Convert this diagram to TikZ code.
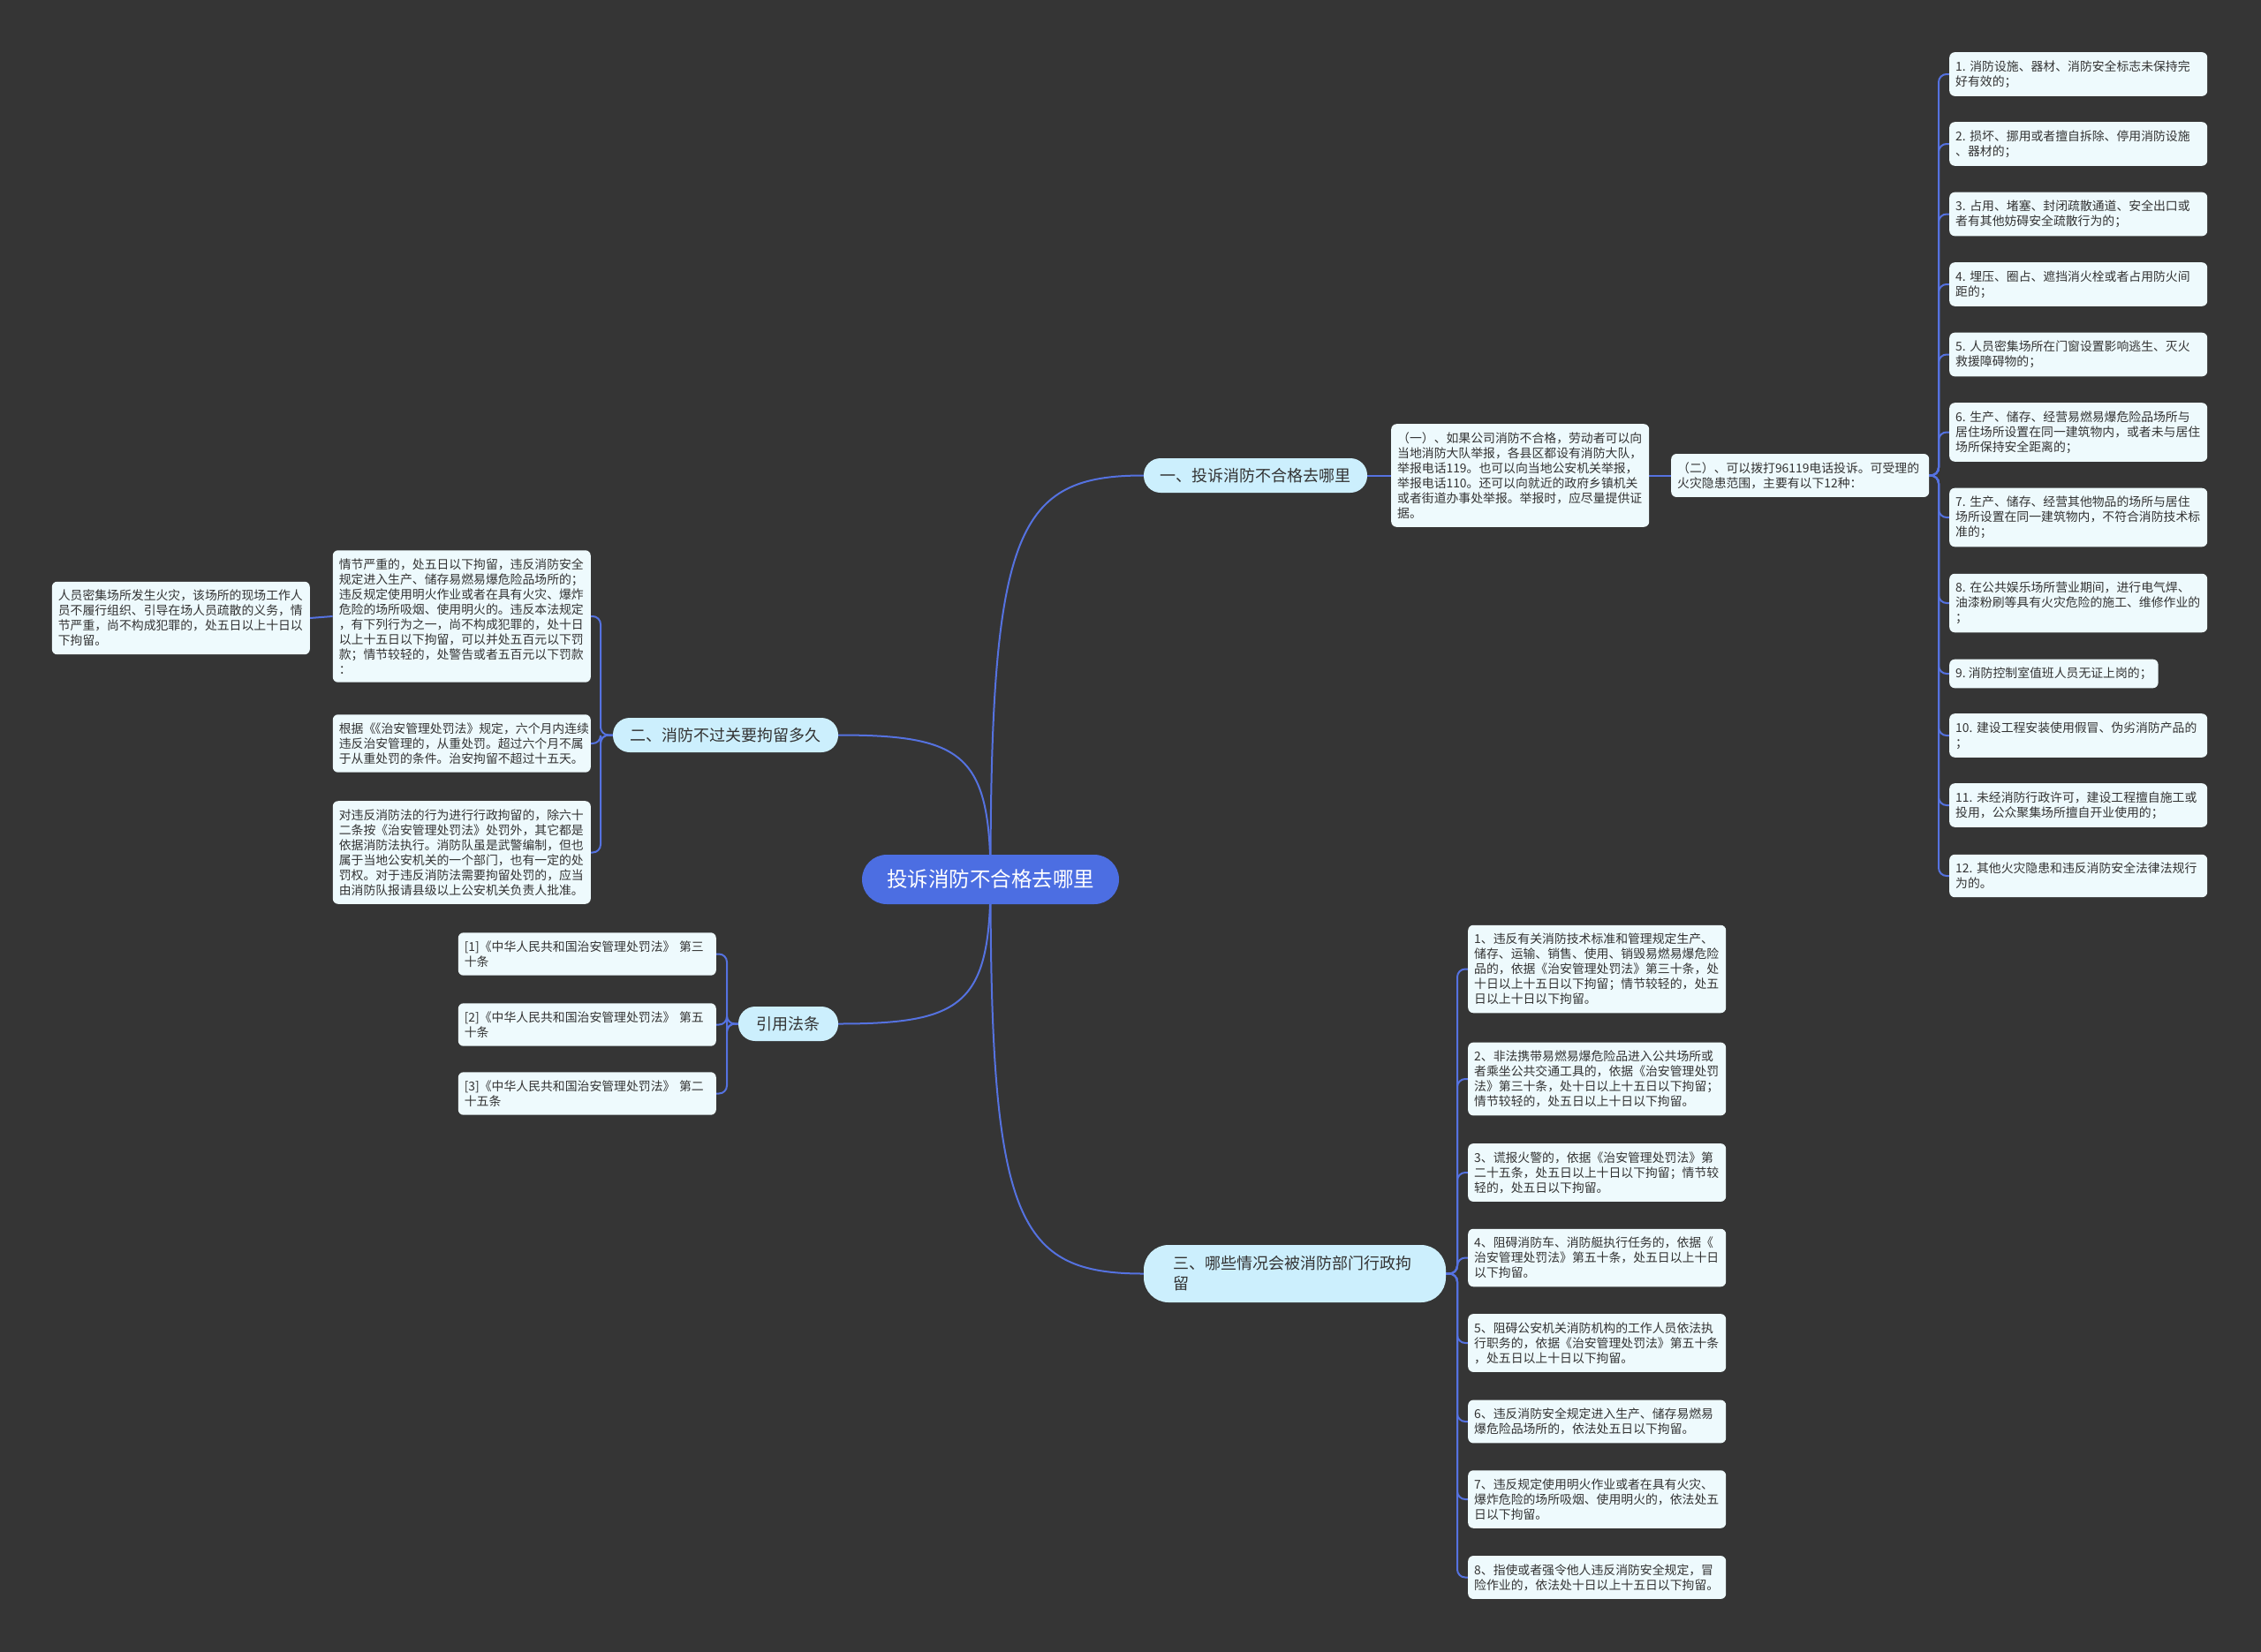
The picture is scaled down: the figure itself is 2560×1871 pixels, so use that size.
\documentclass[tikz,border=0pt]{standalone}
\usepackage{fontspec}
\setmainfont{Noto Sans CJK SC}
\pgfdeclarelayer{bg}
\pgfdeclarelayer{edges}
\pgfsetlayers{bg,edges,main}
\definecolor{bgc}{HTML}{353535}
\definecolor{connc}{HTML}{5572E0}
\definecolor{rootc}{HTML}{4C6EE2}
\definecolor{branchc}{HTML}{CCEFFD}
\definecolor{leafc}{HTML}{EEFAFD}
\definecolor{txt}{HTML}{333333}
\tikzset{
  leafnw/.style={anchor=west, fill=leafc, rounded corners=6pt, text=txt, align=left,
    inner xsep=7pt, inner ysep=9.3pt, font=\fontsize{13.85}{17}\selectfont},
  leaf/.style={leafnw, text width=278pt},
  leafe/.style={leaf, anchor=east},
  branch/.style={fill=branchc, text=txt, font=\fontsize{18}{23}\selectfont,
    rounded corners=19pt, minimum height=39pt, inner sep=0pt},
  rootnode/.style={fill=rootc, text=white, font=\fontsize{23.5}{28}\selectfont,
    rounded corners=28pt, minimum width=291pt, minimum height=56pt, inner sep=0pt},
  conn/.style={draw=connc, line width=2pt},
  bracket/.style={conn, rounded corners=9pt},
}
\begin{document}
\begin{tikzpicture}[x=1pt,y=-1pt]
\begin{pgfonlayer}{bg}
\fill[bgc] (0,0) rectangle (2560,1871);
\end{pgfonlayer}
\useasboundingbox (0,0) rectangle (2560,1871);

% root and branches
\node[rootnode] (root) at (1121.5,996) {投诉消防不合格去哪里};
\node[branch, minimum width=253pt] (b1) at (1421.5,538.5) {一、投诉消防不合格去哪里};
\node[branch, minimum width=255pt] (b2) at (821.5,832.5) {二、消防不过关要拘留多久};
\node[branch, minimum width=113pt] (bref) at (892.5,1159.5) {引用法条};
\node[branch, rounded corners=28pt, minimum height=65pt, text width=275pt, align=left, inner xsep=33.5pt] (b3) at (1466,1442.5) {三、哪些情况会被消防部门行政拘\\留};

% branch 1
\node[leaf] (p1) at (1575,538.5) {（一）、如果公司消防不合格，劳动者可以向\\当地消防大队举报，各县区都设有消防大队，\\举报电话119。也可以向当地公安机关举报，\\举报电话110。还可以向就近的政府乡镇机关\\或者街道办事处举报。举报时，应尽量提供证\\据。};
\node[leaf] (p2) at (1892,538.5) {（二）、可以拨打96119电话投诉。可受理的\\火灾隐患范围，主要有以下12种：};

\node[leaf] (r1) at (2207,84) {1.~消防设施、器材、消防安全标志未保持完\\好有效的；};
\node[leaf] (r2) at (2207,163) {2.~损坏、挪用或者擅自拆除、停用消防设施\\、器材的；};
\node[leaf] (r3) at (2207,242.5) {3.~占用、堵塞、封闭疏散通道、安全出口或\\者有其他妨碍安全疏散行为的；};
\node[leaf] (r4) at (2207,322) {4.~埋压、圈占、遮挡消火栓或者占用防火间\\距的；};
\node[leaf] (r5) at (2207,401.5) {5.~人员密集场所在门窗设置影响逃生、灭火\\救援障碍物的；};
\node[leaf] (r6) at (2207,489.5) {6.~生产、储存、经营易燃易爆危险品场所与\\居住场所设置在同一建筑物内，或者未与居住\\场所保持安全距离的；};
\node[leaf] (r7) at (2207,586) {7.~生产、储存、经营其他物品的场所与居住\\场所设置在同一建筑物内，不符合消防技术标\\准的；};
\node[leaf] (r8) at (2207,683) {8.~在公共娱乐场所营业期间，进行电气焊、\\油漆粉刷等具有火灾危险的施工、维修作业的\\；};
\node[leafnw] (r9) at (2207,763) {9.~消防控制室值班人员无证上岗的；};
\node[leaf] (r10) at (2207,833) {10.~建设工程安装使用假冒、伪劣消防产品的\\；};
\node[leaf] (r11) at (2207,912) {11.~未经消防行政许可，建设工程擅自施工或\\投用，公众聚集场所擅自开业使用的；};
\node[leaf] (r12) at (2207,992) {12.~其他火灾隐患和违反消防安全法律法规行\\为的。};

% branch 2
\node[leafe] (a1) at (669,698) {情节严重的，处五日以下拘留，违反消防安全\\规定进入生产、储存易燃易爆危险品场所的；\\违反规定使用明火作业或者在具有火灾、爆炸\\危险的场所吸烟、使用明火的。违反本法规定\\，有下列行为之一，尚不构成犯罪的，处十日\\以上十五日以下拘留，可以并处五百元以下罚\\款；情节较轻的，处警告或者五百元以下罚款\\：};
\node[leafe] (a2) at (669,842) {根据《\kern-0.55em《治安管理处罚法》规定，六个月内连续\\违反治安管理的，从重处罚。超过六个月不属\\于从重处罚的条件。治安拘留不超过十五天。};
\node[leafe] (a3) at (669,965.5) {对违反消防法的行为进行行政拘留的，除六十\\二条按《治安管理处罚法》处罚外，其它都是\\依据消防法执行。消防队虽是武警编制，但也\\属于当地公安机关的一个部门，也有一定的处\\罚权。对于违反消防法需要拘留处罚的，应当\\由消防队报请县级以上公安机关负责人批准。};
\node[leafe] (a0) at (351,700) {人员密集场所发生火灾，该场所的现场工作人\\员不履行组织、引导在场人员疏散的义务，情\\节严重，尚不构成犯罪的，处五日以上十日以\\下拘留。};

% references
\node[leafe] (f1) at (811,1080.5) {[1]《中华人民共和国治安管理处罚法》~第三\\十条};
\node[leafe] (f2) at (811,1160.5) {[2]《中华人民共和国治安管理处罚法》~第五\\十条};
\node[leafe] (f3) at (811,1238.5) {[3]《中华人民共和国治安管理处罚法》~第二\\十五条};

% branch 3
\node[leaf] (t1) at (1662,1097.5) {1、违反有关消防技术标准和管理规定生产、\\储存、运输、销售、使用、销毁易燃易爆危险\\品的，依据《治安管理处罚法》第三十条，处\\十日以上十五日以下拘留；情节较轻的，处五\\日以上十日以下拘留。};
\node[leaf] (t2) at (1662,1222) {2、非法携带易燃易爆危险品进入公共场所或\\者乘坐公共交通工具的，依据《治安管理处罚\\法》第三十条，处十日以上十五日以下拘留；\\情节较轻的，处五日以上十日以下拘留。};
\node[leaf] (t3) at (1662,1328) {3、谎报火警的，依据《治安管理处罚法》第\\二十五条，处五日以上十日以下拘留；情节较\\轻的，处五日以下拘留。};
\node[leaf] (t4) at (1662,1424.5) {4、阻碍消防车、消防艇执行任务的，依据《\\治安管理处罚法》第五十条，处五日以上十日\\以下拘留。};
\node[leaf] (t5) at (1662,1521) {5、阻碍公安机关消防机构的工作人员依法执\\行职务的，依据《治安管理处罚法》第五十条\\，处五日以上十日以下拘留。};
\node[leaf] (t6) at (1662,1610) {6、违反消防安全规定进入生产、储存易燃易\\爆危险品场所的，依法处五日以下拘留。};
\node[leaf] (t7) at (1662,1698) {7、违反规定使用明火作业或者在具有火灾、\\爆炸危险的场所吸烟、使用明火的，依法处五\\日以下拘留。};
\node[leaf] (t8) at (1662,1786.5) {8、指使或者强令他人违反消防安全规定，冒\\险作业的，依法处十日以上十五日以下拘留。};

\begin{pgfonlayer}{edges}
\draw[conn] (root.center) .. controls (1121.5,598) and (1152,538.5) .. (b1.west);
\draw[conn] (root.center) .. controls (1121.5,854) and (1090,832.5) .. (b2.east);
\draw[conn] (root.center) .. controls (1121.5,1138) and (1090,1159.5) .. (bref.east);
\draw[conn] (root.center) .. controls (1121.5,1384) and (1152,1442.5) .. (b3.west);
\draw[conn] (b1.east) -- (p1.west);
\draw[conn] (p1.east) -- (p2.west);
\foreach \i in {1,...,12} \draw[bracket] (p2.east) -- (2195,538.5) |- (r\i.west);
\foreach \i in {1,2,3} \draw[bracket] (b2.west) -- (680,832.5) |- (a\i.east);
\draw[conn] (a1.west) -- (a0.east);
\foreach \i in {1,2,3} \draw[bracket] (bref.west) -- (823,1159.5) |- (f\i.east);
\foreach \i in {1,...,8} \draw[bracket] (b3.east) -- (1650,1442.5) |- (t\i.west);
\end{pgfonlayer}
\end{tikzpicture}
\end{document}
